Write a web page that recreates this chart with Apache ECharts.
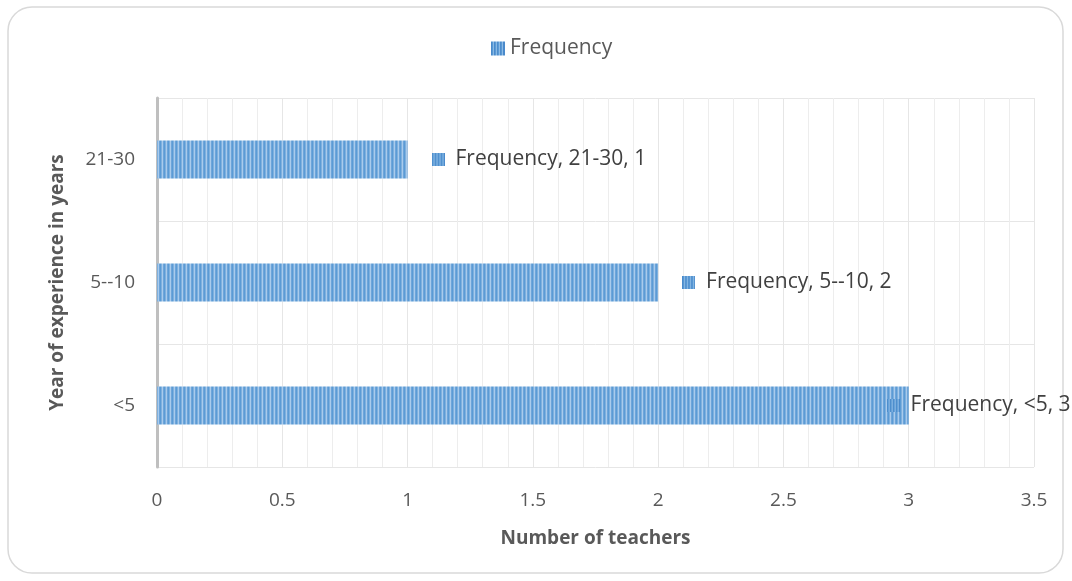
<!DOCTYPE html>
<html><head><meta charset="utf-8">
<script src="https://cdn.jsdelivr.net/npm/echarts@6/dist/echarts.min.js"></script>
<style>html,body{margin:0;padding:0;background:#fff}#c{width:1072px;height:581px}</style>
</head><body><div id="c"></div>
<script>
var categories = ['<5', '5--10', '21-30'];
var frequency = [3, 2, 1];
var xTicks = [0, 0.5, 1, 1.5, 2, 2.5, 3, 3.5];
var seriesName = 'Frequency';

function stripes(w, h, cols) {
  var c = document.createElement('canvas');
  c.width = w; c.height = h;
  var g = c.getContext('2d');
  for (var x = 0; x < w; x++) {
    g.fillStyle = cols[x % cols.length];
    g.fillRect(x, 0, 1, h);
  }
  return c;
}
var pat = stripes(4, 4, ['#5B9BD5', '#7FB0DE', '#A9CBEC', '#6EA5DA']);
var key = stripes(13, 13, ['#4A8ACB', '#5B9BD5', '#8DBBE6']);
var fontFam = '"Open Sans", "Liberation Sans", sans-serif';
var labelOffsets = [[-46, 0], [0, 0], [0, 0]];

var chart = echarts.init(document.getElementById('c'));
chart.setOption({
  animation: false,
  textStyle: { fontFamily: fontFam },
  graphic: [{ type: 'rect', shape: { x: 8, y: 7, width: 1055, height: 566, r: 24 }, style: { fill: 'none', stroke: '#D9D9D9', lineWidth: 1.5 }, silent: true }],
  legend: { top: 33, left: 486, itemWidth: 14, itemHeight: 14, itemGap: 6, textStyle: { color: '#595959', fontSize: 21, fontFamily: fontFam }, data: [{ name: seriesName, icon: 'rect', itemStyle: { color: { image: key, repeat: 'repeat' } } }] },
  grid: { left: 157, right: 38, top: 98, bottom: 114 },
  xAxis: {
    type: 'value', min: 0, max: 3.5, interval: 0.5,
    name: 'Number of teachers', nameLocation: 'middle', nameGap: 62,
    nameTextStyle: { color: '#595959', fontSize: 19, fontWeight: 'bold' },
    axisLine: { show: false }, axisTick: { show: false },
    axisLabel: { color: '#595959', fontSize: 19, margin: 24, formatter: function (v) { return xTicks.indexOf(v) >= 0 ? String(v) : ''; } },
    splitLine: { show: true, lineStyle: { color: '#E6E6E6', width: 1 } },
    minorTick: { show: false, splitNumber: 5 },
    minorSplitLine: { show: true, lineStyle: { color: '#EDEDED', width: 1 } }
  },
  yAxis: {
    type: 'category', data: categories,
    name: 'Year of experience in years', nameLocation: 'middle', nameGap: 90, nameRotate: 90,
    nameTextStyle: { color: '#595959', fontSize: 19, fontWeight: 'bold' },
    axisLine: { show: true, lineStyle: { color: '#BFBFBF', width: 3 } },
    axisTick: { show: false },
    axisLabel: { color: '#595959', fontSize: 19, margin: 22 },
    splitLine: { show: true, lineStyle: { color: '#E6E6E6', width: 1 } }
  },
  series: [{
    name: seriesName, type: 'bar', barWidth: 38,
    itemStyle: { color: { image: pat, repeat: 'repeat' } },
    data: frequency.map(function (v, i) {
      return { value: v, label: { offset: labelOffsets[i] } };
    }),
    label: {
      show: true, position: 'right', distance: 24,
      formatter: function (p) { return '{m|}  ' + p.seriesName + ', ' + p.name + ', ' + p.value; },
      color: '#404040', fontSize: 21,
      rich: { m: { width: 13, height: 13, backgroundColor: { image: key } } }
    }
  }]
});
</script></body></html>
